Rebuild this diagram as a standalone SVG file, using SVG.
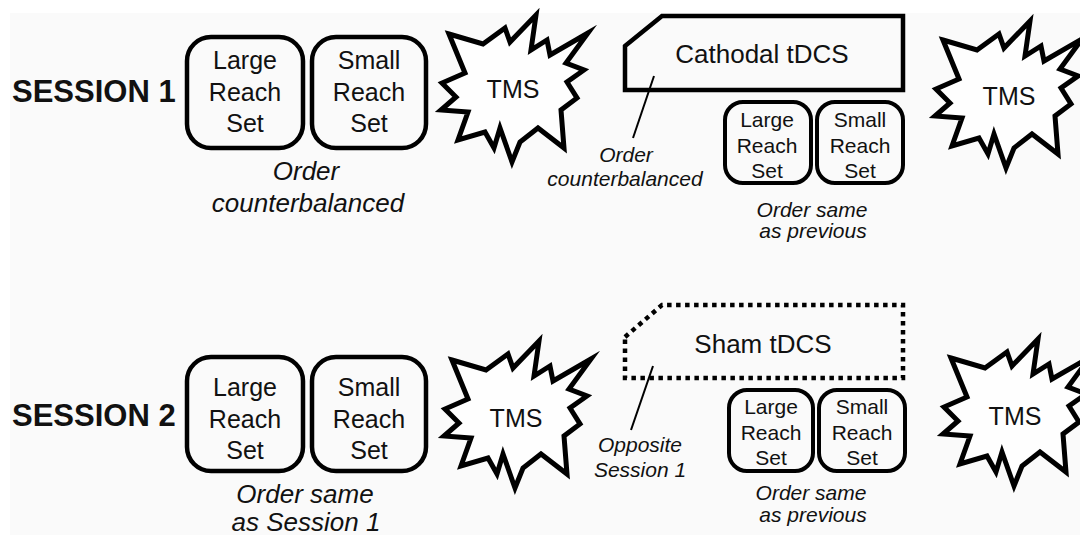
<svg xmlns="http://www.w3.org/2000/svg" width="1080" height="535" viewBox="0 0 1080 535">
  <style>
    .bg { fill: #fafafa; }
    .box { fill: none; stroke: #000; stroke-width: 4.5; }
    .sbox { fill: none; stroke: #000; stroke-width: 4; }
    .star { fill: #fefefe; stroke: #000; stroke-width: 5; stroke-linejoin: miter; stroke-miterlimit: 10; }
    .tdcs { fill: none; stroke: #000; stroke-width: 4.5; stroke-linejoin: miter; }
    .sham { fill: none; stroke: #000; stroke-width: 4.5; stroke-dasharray: 4.5 4.5; }
    .lead { stroke: #000; stroke-width: 2; fill: none; }
    text { font-family: "Liberation Sans", Arial, sans-serif; fill: #111; text-anchor: middle; }
    .sess { font-size: 31px; font-weight: bold; text-anchor: start; }
    .bt { font-size: 25px; }
    .st { font-size: 21px; }
    .it { font-size: 26px; font-style: italic; }
    .its { font-size: 21px; font-style: italic; }
    .tms { font-size: 25px; }
    .td { font-size: 26px; }
  </style>
  <defs>
    <polygon id="burst" class="star" points="449,34 483,44 505,28 510,42 536,15 531,50 547,40 550,55 588,33 566,63 584,70 567,82 577,98 561,110 564,148 538,128 520,142 512,162 500,128 494,148 485,132 458,140 468,112 441,110 456,97 442,83 465,73"/>
  </defs>
  <rect x="0" y="0" width="1080" height="535" fill="#ffffff"/>
  <rect class="bg" x="10" y="13" width="1070" height="522"/>

  <g id="session1-label"><text class="sess" x="12" y="102">SESSION 1</text></g>
  <g id="session2-label"><text class="sess" x="12" y="426">SESSION 2</text></g>

  <!-- Session 1 -->
  <g id="s1-large">
    <rect class="box" x="187" y="37" width="116" height="111" rx="24"/>
    <text class="bt" x="245" y="69">Large</text>
    <text class="bt" x="245" y="101">Reach</text>
    <text class="bt" x="245" y="132">Set</text>
  </g>
  <g id="s1-small">
    <rect class="box" x="312" y="37" width="114" height="111" rx="24"/>
    <text class="bt" x="369" y="69">Small</text>
    <text class="bt" x="369" y="101">Reach</text>
    <text class="bt" x="369" y="132">Set</text>
  </g>
  <g id="s1-order"><text class="it" x="306" y="180">Order</text><text class="it" x="308" y="212">counterbalanced</text></g>
  <g id="s1-tms1"><use href="#burst"/><text class="tms" x="513" y="98">TMS</text></g>
  <g id="s1-tdcs">
    <path class="tdcs" d="M625,46 L662,16 L903,16 L903,90 L625,90 Z"/>
    <text class="td" x="762" y="63">Cathodal tDCS</text>
  </g>
  <g id="s1-tdcs-note"><text class="its" x="626" y="162">Order</text><text class="its" x="625" y="186">counterbalanced</text></g>
  <g id="s1-large2">
    <rect class="sbox" x="725" y="102" width="86" height="81" rx="18"/>
    <text class="st" x="767" y="127">Large</text>
    <text class="st" x="767" y="153">Reach</text>
    <text class="st" x="767" y="178">Set</text>
  </g>
  <g id="s1-small2">
    <rect class="sbox" x="817" y="102" width="86" height="81" rx="18"/>
    <text class="st" x="860" y="127">Small</text>
    <text class="st" x="860" y="153">Reach</text>
    <text class="st" x="860" y="178">Set</text>
  </g>
  <g id="s1-order2"><text class="its" x="812" y="217">Order same</text><text class="its" x="813" y="238">as previous</text></g>
  <g id="s1-tms2" transform="translate(494,6)"><use href="#burst"/><text class="tms" x="515" y="99">TMS</text></g>

  <!-- Session 2 -->
  <g id="s2-large">
    <rect class="box" x="187" y="357" width="116" height="114" rx="24"/>
    <text class="bt" x="245" y="396">Large</text>
    <text class="bt" x="245" y="428">Reach</text>
    <text class="bt" x="245" y="459">Set</text>
  </g>
  <g id="s2-small">
    <rect class="box" x="312" y="357" width="114" height="114" rx="24"/>
    <text class="bt" x="369" y="396">Small</text>
    <text class="bt" x="369" y="428">Reach</text>
    <text class="bt" x="369" y="459">Set</text>
  </g>
  <g id="s2-order"><text class="it" x="305" y="503">Order same</text><text class="it" x="306" y="531">as Session 1</text></g>
  <g id="s2-tms1" transform="translate(3,326)"><use href="#burst"/><text class="tms" x="513" y="101">TMS</text></g>
  <g id="s2-tdcs">
    <path class="sham" d="M625,337 L662,305 L903,305 L903,378 L625,378 Z"/>
    <text class="td" x="763" y="353">Sham tDCS</text>
  </g>
  <g id="s2-tdcs-note"><text class="its" x="640" y="452">Opposite</text><text class="its" x="640" y="477">Session 1</text></g>
  <g id="s2-large2">
    <rect class="sbox" x="729" y="390" width="84" height="81" rx="18"/>
    <text class="st" x="771" y="414">Large</text>
    <text class="st" x="771" y="440">Reach</text>
    <text class="st" x="771" y="465">Set</text>
  </g>
  <g id="s2-small2">
    <rect class="sbox" x="819" y="390" width="86" height="81" rx="18"/>
    <text class="st" x="862" y="414">Small</text>
    <text class="st" x="862" y="440">Reach</text>
    <text class="st" x="862" y="465">Set</text>
  </g>
  <g id="s2-order2"><text class="its" x="811" y="500">Order same</text><text class="its" x="813" y="522">as previous</text></g>
  <g id="s2-tms2" transform="translate(502,324)"><use href="#burst"/><text class="tms" x="513" y="101">TMS</text></g>

  <g id="connectors">
    <line class="lead" x1="654" y1="76" x2="633" y2="138"/>
    <line class="lead" x1="653" y1="366" x2="631" y2="430"/>
  </g>
</svg>
